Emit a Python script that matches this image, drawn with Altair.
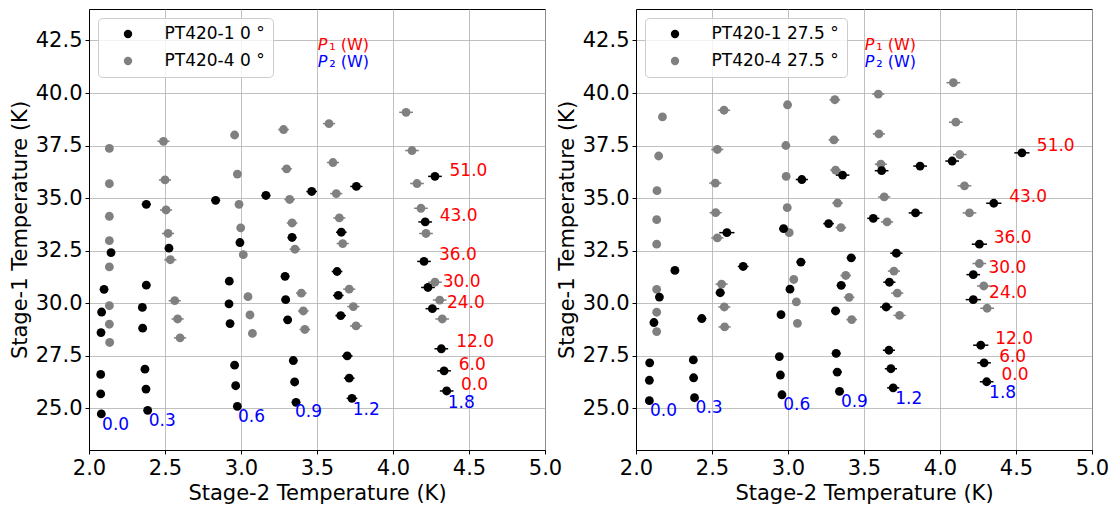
import altair as alt
import pandas as pd

FONT = "DejaVu Sans"
X_TICKS = [2.0, 2.5, 3.0, 3.5, 4.0, 4.5, 5.0]
Y_TICKS = [25.0, 27.5, 30.0, 32.5, 35.0, 37.5, 40.0, 42.5]

# ---------------- Left panel (0 deg) ----------------
L_names = ["PT420-1 0 °", "PT420-4 0 °"]
L_black_x = [2.145, 2.099, 2.083, 2.079, 2.077, 2.077, 2.081,
             2.377, 2.526, 2.377, 2.351, 2.353, 2.368, 2.375, 2.386,
             2.833, 2.993, 2.923, 2.921, 2.928, 2.958, 2.965, 2.976,
             3.164, 3.336, 3.290, 3.294, 3.307, 3.344, 3.353, 3.362,
             3.465, 3.660, 3.632, 3.640, 3.656, 3.699, 3.712, 3.730,
             3.759,
             4.276, 4.212, 4.204, 4.230, 4.259, 4.318, 4.336, 4.353]
L_black_y = [32.40, 30.65, 29.57, 28.59, 26.60, 25.67, 24.72,
             34.70, 32.61, 30.85, 29.79, 28.80, 26.85, 25.90, 24.89,
             34.89, 32.88, 31.04, 29.96, 29.02, 27.04, 26.06, 25.08,
             35.12, 33.12, 31.27, 30.16, 29.20, 27.26, 26.24, 25.27,
             35.31, 33.37, 31.50, 30.36, 29.40, 27.48, 26.42, 25.46,
             35.55,
             36.03, 33.86, 31.98, 30.74, 29.73, 27.82, 26.77, 25.81]
L_black_e = [0.012, 0.012, 0.012, 0.012, 0.012, 0.012, 0.012,
             0.030, 0.025, 0.025, 0.025, 0.025, 0.025, 0.025, 0.025,
             0.030, 0.025, 0.022, 0.022, 0.022, 0.022, 0.022, 0.022,
             0.030, 0.030, 0.028, 0.028, 0.028, 0.028, 0.028, 0.028,
             0.035, 0.035, 0.035, 0.035, 0.035, 0.035, 0.035, 0.035,
             0.040,
             0.045, 0.045, 0.045, 0.045, 0.045, 0.045, 0.045, 0.045]

L_gray_x = [2.134, 2.134, 2.134, 2.134, 2.134, 2.134, 2.134, 2.136,
            2.490, 2.500, 2.507, 2.520, 2.535, 2.564, 2.583, 2.599,
            2.958, 2.976, 2.987, 2.998, 3.015, 3.046, 3.059, 3.075,
            3.280, 3.300, 3.320, 3.336, 3.355, 3.397, 3.410, 3.420,
            3.579, 3.605, 3.627, 3.647, 3.669, 3.712, 3.739, 3.757,
            4.086, 4.125, 4.158, 4.184, 4.217, 4.276, 4.307, 4.324]
L_gray_y = [37.36, 35.68, 34.13, 32.97, 31.72, 29.87, 28.99, 28.12,
            37.70, 35.86, 34.43, 33.31, 32.06, 30.11, 29.24, 28.34,
            38.00, 36.14, 34.70, 33.58, 32.30, 30.30, 29.43, 28.55,
            38.26, 36.39, 34.93, 33.81, 32.56, 30.47, 29.62, 28.74,
            38.54, 36.69, 35.21, 34.05, 32.83, 30.66, 29.83, 28.91,
            39.08, 37.26, 35.69, 34.51, 33.31, 30.99, 30.14, 29.24]
L_gray_e = [0.012] * 8 + [0.040] * 8 + [0.025] * 8 + [0.035] * 8 + [0.040] * 8 + [0.045] * 8

L_red_t = ["51.0", "43.0", "36.0", "30.0", "24.0", "12.0", "6.0", "0.0"]
L_red_x = [4.372, 4.307, 4.303, 4.327, 4.355, 4.416, 4.432, 4.447]
L_red_y = [36.30, 34.16, 32.28, 31.01, 30.02, 28.13, 27.03, 26.08]
L_blue_t = ["0.0", "0.3", "0.6", "0.9", "1.2", "1.8"]
L_blue_x = [2.086, 2.393, 2.980, 3.355, 3.735, 4.360]
L_blue_y = [24.21, 24.37, 24.57, 24.81, 24.92, 25.25]

# ---------------- Right panel (27.5 deg) ----------------
R_names = ["PT420-1 27.5 °", "PT420-4 27.5 °"]
R_black_x = [2.256, 2.154, 2.118, 2.090, 2.088, 2.088,
             2.598, 2.705, 2.554, 2.433, 2.377, 2.379, 2.385,
             3.091, 2.971, 3.085, 3.013, 2.954, 2.943, 2.950, 2.960,
             3.359, 3.267, 3.416, 3.350, 3.313, 3.317, 3.324, 3.339,
             3.869, 3.616, 3.839, 3.561, 3.713, 3.667, 3.646, 3.664, 3.677, 3.692,
             4.539, 4.080, 4.354, 4.259, 4.219, 4.219, 4.268, 4.290, 4.307]
R_black_y = [31.55, 30.28, 29.07, 27.15, 26.32, 25.35,
             33.35, 31.74, 30.49, 29.26, 27.29, 26.44, 25.49,
             35.88, 33.54, 31.95, 30.66, 29.45, 27.45, 26.57, 25.63,
             36.09, 33.78, 32.15, 30.84, 29.62, 27.60, 26.71, 25.79,
             36.52, 36.30, 34.29, 34.03, 32.37, 30.99, 29.81, 27.75, 26.87, 25.96,
             37.15, 36.76, 34.75, 32.80, 31.35, 30.16, 27.99, 27.15, 26.25]
R_black_e = [0.015, 0.015, 0.012, 0.012, 0.012, 0.012,
             0.050, 0.035, 0.030, 0.030, 0.025, 0.025, 0.022,
             0.040, 0.030, 0.030, 0.022, 0.022, 0.022, 0.022, 0.022,
             0.045, 0.035, 0.030, 0.030, 0.030, 0.030, 0.030, 0.030,
             0.045, 0.045, 0.045, 0.040, 0.040, 0.040, 0.040, 0.040, 0.040, 0.040,
             0.050, 0.045, 0.050, 0.050, 0.045, 0.050, 0.050, 0.045, 0.045]

R_gray_x = [2.174, 2.149, 2.138, 2.136, 2.136, 2.136, 2.136, 2.136,
            2.579, 2.535, 2.522, 2.524, 2.535, 2.563, 2.581, 2.583,
            2.997, 2.986, 2.988, 2.995, 3.008, 3.038, 3.055, 3.062,
            3.308, 3.302, 3.313, 3.326, 3.348, 3.380, 3.402, 3.419,
            3.594, 3.598, 3.611, 3.633, 3.652, 3.697, 3.719, 3.734,
            4.088, 4.104, 4.130, 4.161, 4.194, 4.259, 4.288, 4.310]
R_gray_y = [38.86, 37.00, 35.35, 33.97, 32.80, 30.65, 29.56, 28.64,
            39.18, 37.31, 35.71, 34.30, 33.10, 30.90, 29.81, 28.86,
            39.44, 37.50, 36.03, 34.54, 33.35, 31.12, 30.05, 29.03,
            39.68, 37.77, 36.33, 34.76, 33.59, 31.31, 30.27, 29.21,
            39.95, 38.05, 36.61, 35.05, 33.86, 31.52, 30.47, 29.41,
            40.49, 38.61, 37.07, 35.58, 34.29, 31.88, 30.81, 29.75]
R_gray_e = [0.012] * 8 + [0.040] * 8 + [0.025] * 8 + [0.035] * 8 + [0.040] * 8 + [0.045] * 8

R_red_t = ["51.0", "43.0", "36.0", "30.0", "24.0", "12.0", "6.0", "0.0"]
R_red_x = [4.637, 4.455, 4.354, 4.319, 4.323, 4.363, 4.389, 4.404]
R_red_y = [37.47, 35.06, 33.08, 31.66, 30.47, 28.29, 27.45, 26.55]
R_blue_t = ["0.0", "0.3", "0.6", "0.9", "1.2", "1.8"]
R_blue_x = [2.092, 2.392, 2.969, 3.348, 3.705, 4.323]
R_blue_y = [24.84, 25.00, 25.13, 25.29, 25.44, 25.73]

# power-label annotation
P_x = [3.505, 3.505]
P_y = [42.29, 41.48]
P_head = ["P", "P"]
P_tail = ["\u2081 (W)", "\u2082 (W)"]
P_col = ["red", "blue"]

W, H = 456, 441


def panel(names, bx, by, be, gx, gy, ge, rt, rx, ry, btt, btx, bty):
    xsc = alt.Scale(domain=[2, 5], nice=False, zero=False)
    ysc = alt.Scale(domain=[23, 44], nice=False, zero=False)
    xax = alt.Axis(values=X_TICKS, format=".1f", title="Stage-2 Temperature (K)",
                   labelFlush=False, grid=True)
    yax = alt.Axis(values=Y_TICKS, format=".1f", title="Stage-1 Temperature (K)",
                   labelFlush=False, grid=True, titlePadding=5)
    cscale = alt.Scale(domain=names, range=["black", "gray"])

    black = pd.DataFrame({"x": bx, "y": by, "e": be, "s": names[0]})
    gray = pd.DataFrame({"x": gx, "y": gy, "e": ge, "s": names[1]})
    for d in (black, gray):
        d["lo"] = d["x"] - d["e"]
        d["hi"] = d["x"] + d["e"]

    def rules(d, col):
        return alt.Chart(d).mark_rule(strokeWidth=1.5, color=col).encode(
            x=alt.X("lo:Q", scale=xsc, axis=xax), x2="hi:Q",
            y=alt.Y("y:Q", scale=ysc, axis=yax))

    legend = alt.Legend(
        title=None, orient="top-left", offset=9, padding=7.5,
        fillColor="rgba(255,255,255,0.8)", strokeColor="#cccccc",
        cornerRadius=4, labelFont=FONT, labelFontSize=17,
        labelColor="black", symbolType="circle", symbolSize=70,
        symbolStrokeWidth=0, symbolOffset=14, labelOffset=28,
        rowPadding=9)

    def dots(d):
        return alt.Chart(d).mark_circle(size=78, opacity=1).encode(
            x=alt.X("x:Q", scale=xsc, axis=xax),
            y=alt.Y("y:Q", scale=ysc, axis=yax),
            color=alt.Color("s:N", scale=cscale, legend=legend))

    red = pd.DataFrame({"t": rt, "x": rx, "y": ry})
    blue = pd.DataFrame({"t": btt, "x": btx, "y": bty})
    red_txt = alt.Chart(red).mark_text(align="left", baseline="middle", color="red",
                                       font=FONT, fontSize=17).encode(
        x=alt.X("x:Q", scale=xsc, axis=xax), y=alt.Y("y:Q", scale=ysc, axis=yax), text="t:N")
    blue_txt = alt.Chart(blue).mark_text(align="left", baseline="middle", color="blue",
                                         font=FONT, fontSize=17).encode(
        x=alt.X("x:Q", scale=xsc, axis=xax), y=alt.Y("y:Q", scale=ysc, axis=yax), text="t:N")

    pdf = pd.DataFrame({"x": P_x, "y": P_y, "h": P_head, "t": P_tail, "c": P_col})
    p_head = alt.Chart(pdf).mark_text(align="left", baseline="middle", font=FONT,
                                      fontSize=16, fontStyle="italic").encode(
        x=alt.X("x:Q", scale=xsc, axis=xax), y=alt.Y("y:Q", scale=ysc, axis=yax),
        text="h:N", color=alt.Color("c:N", scale=None))
    p_tail = alt.Chart(pdf).mark_text(align="left", baseline="middle", font=FONT,
                                      fontSize=16, dx=11.5).encode(
        x=alt.X("x:Q", scale=xsc, axis=xax), y=alt.Y("y:Q", scale=ysc, axis=yax),
        text="t:N", color=alt.Color("c:N", scale=None))

    return alt.layer(rules(gray, "gray"), dots(gray), rules(black, "black"), dots(black),
                     red_txt, blue_txt, p_head, p_tail).properties(width=W, height=H)


left = panel(L_names, L_black_x, L_black_y, L_black_e, L_gray_x, L_gray_y, L_gray_e,
             L_red_t, L_red_x, L_red_y, L_blue_t, L_blue_x, L_blue_y)
right = panel(R_names, R_black_x, R_black_y, R_black_e, R_gray_x, R_gray_y, R_gray_e,
              R_red_t, R_red_x, R_red_y, R_blue_t, R_blue_x, R_blue_y)

chart = alt.hconcat(left, right, spacing=91, bounds="flush").resolve_scale(
    color="independent").resolve_legend(color="independent").properties(
    padding=0).configure_view(stroke="black", strokeWidth=1).configure_axis(
    labelFont=FONT, labelFontSize=21, labelColor="black",
    titleFont=FONT, titleFontSize=21, titleFontWeight="normal", titleColor="black",
    gridColor="#b0b0b0", gridWidth=0.8, tickColor="black", tickSize=4,
    domainColor="black", labelPadding=3)

chart.save("out.html", embed_options={"renderer": "svg", "actions": False})
